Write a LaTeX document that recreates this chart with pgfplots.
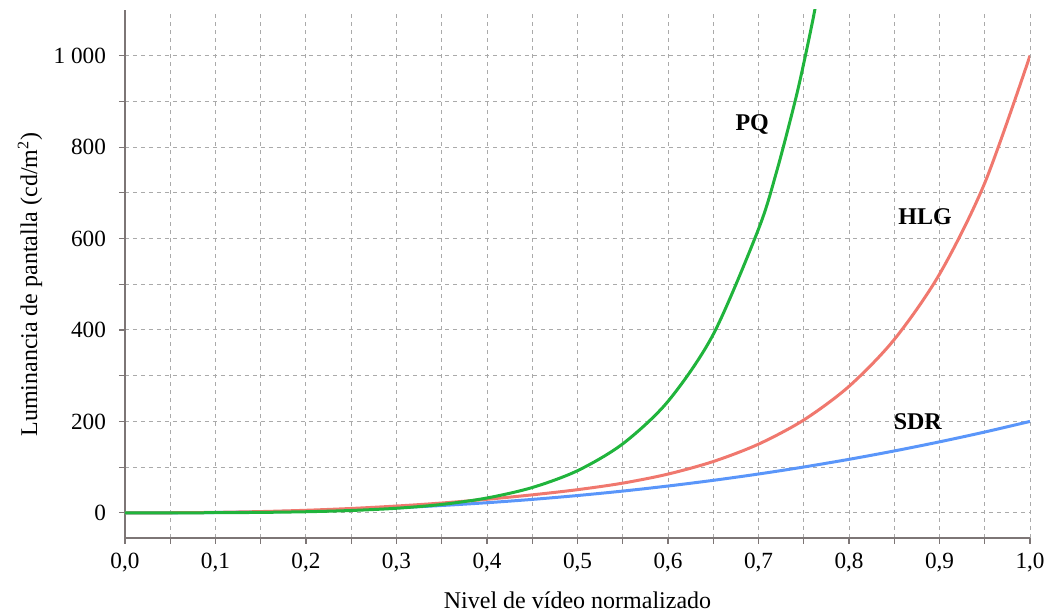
\documentclass[border=0pt]{standalone}
\usepackage{pgfplots}
\pgfplotsset{compat=1.18}
\usepackage{fontspec}
\setmainfont{Liberation Serif}
\usetikzlibrary{calc}

\definecolor{pqgreen}{RGB}{32,180,60}
\definecolor{hlgred}{RGB}{240,120,110}
\definecolor{sdrblue}{RGB}{90,150,250}
\definecolor{axgray}{RGB}{125,118,118}
\definecolor{gridgray}{RGB}{170,170,170}

\begin{document}
\begin{tikzpicture}
  \begin{axis}[
    name=ax,
    scale only axis,
    width=452.5pt, height=264pt,
    xmin=0, xmax=1,
    ymin=-55, ymax=1100,
    axis x line*=bottom,
    axis y line*=left,
    axis line style={axgray, line width=0.8pt, -},
    xtick={0,0.1,...,1.0},
    minor xtick={0.05,0.15,...,0.95},
    ytick={0,200,...,1000},
    minor ytick={100,300,...,900},
    tick align=outside,
    major tick length=3pt,
    minor tick length=3pt,
    tick style={axgray, line width=0.6pt},
    grid=both,
    major grid style={gridgray, line width=0.5pt, dash pattern=on 2pt off 2pt},
    minor grid style={gridgray, line width=0.5pt, dash pattern=on 2pt off 2pt},
    /pgf/number format/assume math mode=true,
    ticklabel style={font=\fontsize{11.6}{14}\selectfont},
    label style={font=\fontsize{12}{14}\selectfont},
    xticklabel style={yshift=-1pt, /pgf/number format/.cd, fixed, fixed zerofill, precision=1, use comma},
    yticklabel style={xshift=-3pt, /pgf/number format/.cd, fixed, precision=0, 1000 sep={\ }},
    xlabel={Nivel de vídeo normalizado},
    ylabel={Luminancia de pantalla (cd/m\textsuperscript{2})},
    xlabel style={at={(rel axis cs:0.5,-0.1174)}, anchor=center},
    ylabel style={at={(rel axis cs:-0.105,0.48)}, anchor=center},
    clip=true,
  ]
    % SDR
    \addplot[sdrblue, line width=1.5pt, smooth] coordinates {
      (0,0) (0.05,0.15) (0.1,0.80) (0.15,2.11) (0.2,4.20) (0.25,7.18)
      (0.3,11.12) (0.35,16.10) (0.4,22.18) (0.45,29.42) (0.5,37.89)
      (0.55,47.63) (0.6,58.69) (0.65,71.12) (0.7,84.97) (0.75,100.27)
      (0.8,117.07) (0.85,135.41) (0.9,155.32) (0.95,176.83) (1.0,200)
    };
    % HLG
    \addplot[hlgred, line width=1.5pt, smooth] coordinates {
      (0,0) (0.05,0.20) (0.1,1.07) (0.15,2.82) (0.2,5.63) (0.25,9.61)
      (0.3,14.9) (0.35,21.5) (0.4,29.7) (0.45,39.4) (0.5,50.7)
      (0.55,65.0) (0.6,84.8) (0.65,112.3) (0.7,150.3) (0.75,203.1)
      (0.8,276.7) (0.85,379.2) (0.9,522.1) (0.95,721.6) (1.0,1000)
    };
    % PQ
    \addplot[pqgreen, line width=1.5pt, smooth] coordinates {
      (0,0) (0.05,0.06) (0.1,0.32) (0.15,1.00) (0.2,2.43) (0.25,5.16)
      (0.3,10.04) (0.35,18.4) (0.4,32.5) (0.45,55.4) (0.5,92.2)
      (0.55,151.0) (0.6,243.9) (0.65,390.4) (0.7,620.7) (0.72,746.4)
      (0.74,897.1) (0.75,983.4) (0.76,1077.8) (0.77,1181)
    };
    \node[font=\fontsize{12}{14}\selectfont\bfseries] at (axis cs:0.693,849) {PQ};
    \node[font=\fontsize{12}{14}\selectfont\bfseries] at (axis cs:0.884,648) {HLG};
    \node[font=\fontsize{12}{14}\selectfont\bfseries] at (axis cs:0.876,199) {SDR};
    \coordinate (bl) at (rel axis cs:0,0);
    \coordinate (tr) at (rel axis cs:1,1);
  \end{axis}
  \pgfresetboundingbox
  \path[use as bounding box] ($(bl)+(-62.5pt,-38pt)$) rectangle ($(tr)+(9.5pt,5pt)$);
\end{tikzpicture}
\end{document}
